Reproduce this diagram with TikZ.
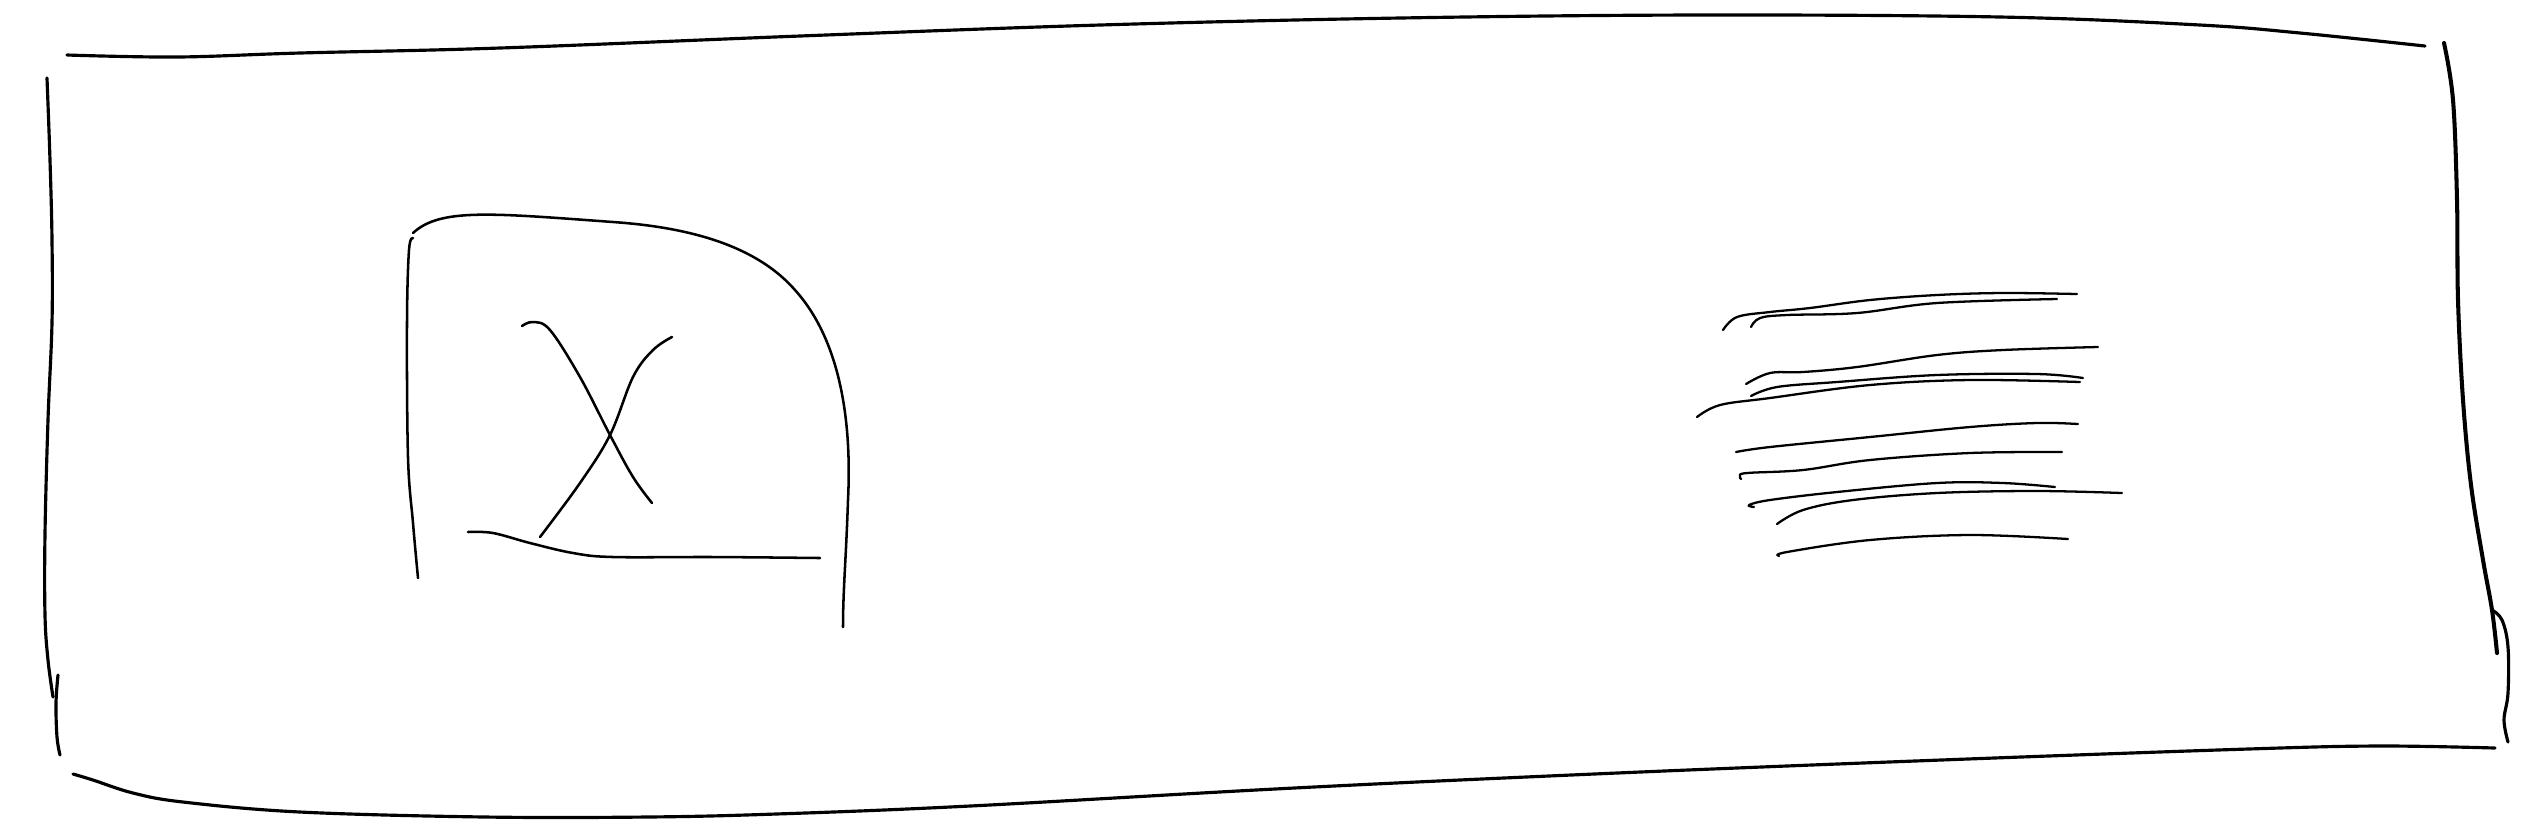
\documentclass[tikz,border=0pt]{standalone}
\begin{document}
\begin{tikzpicture}[x=0.01cm, y=-0.01cm,
  pen/.style={line width=0.72pt, line cap=round, line join=round, black},
  frame/.style={line width=0.9pt, line cap=round, line join=round, black},
  heavy/.style={line width=1.15pt, line cap=round, line join=round, black},
  scrib/.style={line width=0.65pt, line cap=round, line join=round, black}]
\useasboundingbox (0,0) rectangle (2536,832);
% outer frame
\draw[frame] plot[smooth, tension=0.6] coordinates {(67,55) (177,57) (300,53) (500,48) (800,36) (1100,25) (1400,18) (1700,15) (2000,17) (2200,25) (2300,33) (2425,46)};
\draw[heavy] plot[smooth, tension=0.6] coordinates {(2444,43) (2453,100) (2457,200) (2458,300) (2463,400) (2471,485) (2483,560) (2492,610) (2497,653)};
\draw[frame] plot[smooth, tension=0.6] coordinates {(2492,610) (2502,620) (2508,647) (2508,693) (2504,720) (2508,742)};
\draw[frame] plot[smooth, tension=0.6] coordinates {(47,78) (50,160) (52,240) (52,323) (48,420) (45,534) (45,615) (48,660) (53,697)};
\draw[frame] plot[smooth, tension=0.6] coordinates {(58,675) (56,703) (57,737) (60,755)};
\draw[frame] plot[smooth, tension=0.6] coordinates {(73,774) (93,780) (133,793) (183,802) (300,812) (485,817) (647,817) (776,814) (970,806) (1294,788) (1617,773) (1941,760) (2248,749) (2380,746) (2495,748)};
% image box
\draw[pen] plot[smooth, tension=0.6] coordinates {(413,238) (409,250) (407,323) (408,457) (413,523) (418,578)};
\draw[pen] (413,233) .. controls (440,208) and (490,213) .. (613,222)
  .. controls (700,228) and (760,250) .. (795,290)
  .. controls (840,340) and (852,420) .. (848,500)
  .. controls (846,560) and (843,590) .. (843,627);
\draw[pen] plot[smooth, tension=0.6] coordinates {(468,532) (493,533) (530,543) (573,553) (613,557) (713,557) (820,558)};
\draw[pen] plot[smooth, tension=0.6] coordinates {(522,326) (533,322) (550,330) (580,377) (610,435) (633,477) (652,503)};
\draw[pen] plot[smooth, tension=0.6] coordinates {(672,337) (653,350) (633,377) (610,435) (580,483) (540,537)};
% text scribbles
\draw[scrib] plot[smooth, tension=0.6] coordinates {(1723,330) (1737,317) (1770,312) (1810,308) (1870,300) (1937,295) (2003,293) (2077,294)};
\draw[scrib] plot[smooth, tension=0.6] coordinates {(1751,327) (1760,318) (1787,315) (1857,313) (1937,303) (2057,299)};
\draw[scrib] plot[smooth, tension=0.6] coordinates {(1746,384) (1770,373) (1803,372) (1857,367) (1937,355) (2003,350) (2098,347)};
\draw[scrib] plot[smooth, tension=0.6] coordinates {(1751,396) (1777,387) (1837,382) (1937,375) (2037,374) (2083,378)};
\draw[scrib] plot[smooth, tension=0.6] coordinates {(1697,417) (1720,405) (1770,398) (1870,385) (1970,380) (2080,382)};
\draw[scrib] plot[smooth, tension=0.6] coordinates {(1736,452) (1770,447) (1870,437) (1970,427) (2037,423) (2078,424)};
\draw[scrib] plot[smooth, tension=0.6] coordinates {(1741,479) (1740,476) (1747,473) (1803,470) (1870,460) (1970,453) (2062,452)};
\draw[scrib] plot[smooth, tension=0.6] coordinates {(1754,507) (1749,505) (1770,500) (1837,492) (1937,483) (2003,483) (2055,487)};
\draw[scrib] plot[smooth, tension=0.6] coordinates {(1777,524) (1803,510) (1853,500) (1937,493) (2037,491) (2122,493)};
\draw[scrib] plot[smooth, tension=0.6] coordinates {(1779,556) (1787,552) (1870,540) (1970,535) (2068,539)};
\end{tikzpicture}
\end{document}
